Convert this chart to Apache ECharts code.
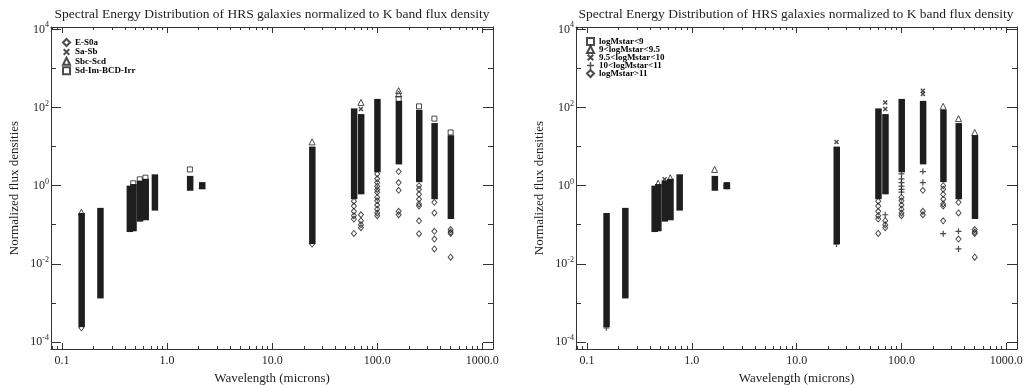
<!DOCTYPE html>
<html><head><meta charset="utf-8">
<script src="https://cdn.jsdelivr.net/npm/echarts@6/dist/echarts.min.js"></script>
<style>html,body{margin:0;padding:0;background:#fff}#c{width:1031px;height:385px}</style>
</head><body><div id="c"></div>
<script>
// ---------------- data ----------------
const titleText = 'Spectral Energy Distribution of HRS galaxies normalized to K band flux density';
const xName = 'Wavelength (microns)';
const yName = 'Normalized flux densities';
const xRange = [0.0786, 1265];
const yRange = [6.6e-5, 11500];
const xTickValues = [0.1, 1, 10, 100, 1000];
const xTickLabels = ['0.1', '1.0', '10.0', '100.0', '1000.0'];
const xMinorValues = [0.08, 0.09, 0.2, 0.3, 0.4, 0.5, 0.6, 0.7, 0.8, 0.9, 2, 3, 4, 5, 6, 7, 8, 9,
  20, 30, 40, 50, 60, 70, 80, 90, 200, 300, 400, 500, 600, 700, 800, 900];
const yTickValues = [1e-4, 1e-2, 1, 1e2, 1e4];
const yTickExponents = ['-4', '-2', '0', '2', '4'];
const yMinorValues = [1e-3, 1e-1, 1e1, 1e3];

// band wavelengths (microns) and the dense core of each column (overlapping symbols)
const bands    = [0.153, 0.231, 0.44, 0.477, 0.55, 0.623, 0.762, 1.65, 2.15, 24, 60, 70, 100, 160, 250, 350, 500];
const coreLow  = [2.4e-4, 1.3e-3, 0.065, 0.068, 0.12, 0.13, 0.23, 0.74, 0.96, 0.032, 0.45, 0.6, 2.2, 3.5, 1.23, 0.45, 0.14];
const coreHigh = [0.2, 0.27, 1.0, 1.1, 1.35, 1.5, 1.95, 1.78, 1.04, 10, 95, 68, 166, 148, 87, 40, 19.5];

// left panel: morphological classes
const leftNames = ['E-S0a', 'Sa-Sb', 'Sbc-Scd', 'Sd-Im-BCD-Irr'];
const typeE = [[0.153, 2.3e-4], [2.15, 1], [24, 0.032],
  [60, 0.4], [60, 0.3], [60, 0.22], [60, 0.17], [60, 0.14], [60, 0.06],
  [70, 0.18], [70, 0.127], [70, 0.1], [70, 0.084],
  [100, 2.0], [100, 1.5], [100, 1.2], [100, 0.97], [100, 0.8], [100, 0.68], [100, 0.5], [100, 0.41], [100, 0.32], [100, 0.25], [100, 0.2], [100, 0.17],
  [160, 2.3], [160, 1.2], [160, 0.76], [160, 0.22], [160, 0.18],
  [250, 1.0], [250, 0.81], [250, 0.6], [250, 0.45], [250, 0.34], [250, 0.3], [250, 0.126], [250, 0.059],
  [350, 0.375], [350, 0.2], [350, 0.068], [350, 0.043], [350, 0.024],
  [500, 0.075], [500, 0.065], [500, 0.06], [500, 0.0148]];
const typeSa = [[70, 91], [2.15, 1]];
const typeSbc = [[0.153, 0.21], [24, 13.2], [70, 135], [160, 270], [160, 223], [2.15, 1]];
const typeSd = [[0.477, 1.15], [0.55, 1.45], [0.623, 1.6], [1.65, 2.6], [160, 166], [250, 107], [350, 52], [500, 23], [2.15, 1]];

// right panel: stellar mass classes
const rightNames = ['logMstar<9', '9<logMstar<9.5', '9.5<logMstar<10', '10<logMstar<11', 'logMstar>11'];
const massLt9 = [[2.15, 1]];
const mass9 = [[0.477, 1.15], [0.623, 1.6], [1.65, 2.6], [250, 107], [350, 52], [500, 23], [2.15, 1]];
const mass95 = [[0.55, 1.45], [24, 13.2], [70, 135], [70, 91], [160, 270], [160, 223], [2.15, 1]];
const mass10 = [[0.153, 2.3e-4], [24, 0.032], [70, 0.18], [100, 2.0], [100, 1.5], [100, 1.2], [100, 0.97], [100, 0.8], [100, 0.68],
  [160, 2.3], [160, 1.2], [250, 0.059], [350, 0.068], [350, 0.024], [2.15, 1]];
const mass11 = [[60, 0.4], [60, 0.3], [60, 0.22], [60, 0.17], [60, 0.14], [60, 0.06],
  [70, 0.127], [70, 0.1], [70, 0.084],
  [100, 0.5], [100, 0.41], [100, 0.32], [100, 0.25], [100, 0.2], [100, 0.17],
  [160, 0.76], [160, 0.22], [160, 0.18],
  [250, 1.0], [250, 0.81], [250, 0.6], [250, 0.45], [250, 0.34], [250, 0.3], [250, 0.126],
  [350, 0.375], [350, 0.2], [350, 0.043],
  [500, 0.075], [500, 0.065], [500, 0.06], [500, 0.0148], [2.15, 1]];

// ---------------- styling / building ----------------
const FONT = 'Liberation Serif';
const INK = '#1e1e1e';
const LINE = '#333';
const HOLLOW = 'rgba(255,255,255,0)';
const L = v => Math.log10(v);
const X_PATH = 'path://M0,2 L2,0 L5,3 L8,0 L10,2 L7,5 L10,8 L8,10 L5,7 L2,10 L0,8 L3,5 Z';
const PLUS_PATH = 'path://M4,0 L6,0 L6,4 L10,4 L10,6 L6,6 L6,10 L4,10 L4,6 L0,6 L0,4 L4,4 Z';
const SYM = {
  diamond: {symbol: 'diamond', symbolSize: [5, 6], itemStyle: {color: HOLLOW, borderColor: INK, borderWidth: 1}},
  x: {symbol: X_PATH, symbolSize: 5, itemStyle: {color: INK}},
  triangle: {symbol: 'triangle', symbolSize: 6, itemStyle: {color: HOLLOW, borderColor: INK, borderWidth: 1}},
  square: {symbol: 'rect', symbolSize: 5, itemStyle: {color: HOLLOW, borderColor: INK, borderWidth: 1}},
  plus: {symbol: PLUS_PATH, symbolSize: 6, itemStyle: {color: INK}}
};

function fmtX(v) {
  const k = xTickValues.findIndex(t => Math.abs(L(t) - v) < 1e-6);
  return k < 0 ? '' : xTickLabels[k];
}
function fmtY(v) {
  const k = yTickValues.findIndex(t => Math.abs(L(t) - v) < 1e-6);
  return k < 0 ? '' : '{b|10}{s|' + yTickExponents[k] + '}';
}

const grids = [{left: 51, top: 27, width: 442, height: 322}, {left: 576, top: 27, width: 441, height: 322}];
const xAxes = [], yAxes = [];
function xAxis(g, pos, major, main) {
  const vals = (major ? xTickValues : xMinorValues).map(L);
  return {
    gridIndex: g, type: 'value', position: pos, min: L(xRange[0]), max: L(xRange[1]),
    axisLine: {show: main, onZero: false, lineStyle: {color: LINE, width: 1}},
    axisTick: {show: true, inside: true, length: major ? 6 : 3, customValues: vals, lineStyle: {color: LINE, width: 1}},
    axisLabel: main && pos === 'bottom' ? {show: true, customValues: vals, formatter: fmtX, margin: 6,
      fontFamily: FONT, fontSize: 12, color: INK} : {show: false},
    splitLine: {show: false}, minorTick: {show: false},
    name: main && pos === 'bottom' ? xName : '', nameLocation: 'middle', nameGap: 21,
    nameTextStyle: {fontFamily: FONT, fontSize: 13, color: INK}
  };
}
function yAxis(g, pos, major, main) {
  const vals = (major ? yTickValues : yMinorValues).map(L);
  return {
    gridIndex: g, type: 'value', position: pos, min: L(yRange[0]), max: L(yRange[1]),
    axisLine: {show: main, onZero: false, lineStyle: {color: LINE, width: 1}},
    axisTick: {show: true, inside: true, length: major ? 10 : 5, customValues: vals, lineStyle: {color: LINE, width: 1}},
    axisLabel: main && pos === 'left' ? {show: true, customValues: vals, formatter: fmtY, margin: 2,
      rich: {b: {fontFamily: FONT, fontSize: 12, color: INK, lineHeight: 16},
             s: {fontFamily: FONT, fontSize: 8, color: INK, lineHeight: 8, verticalAlign: 'top'}}} : {show: false},
    splitLine: {show: false}, minorTick: {show: false},
    name: main && pos === 'left' ? yName : '', nameLocation: 'middle', nameGap: 30,
    nameTextStyle: {fontFamily: FONT, fontSize: 13, color: INK}
  };
}
for (let g = 0; g < 2; g++) {
  xAxes.push(xAxis(g, 'bottom', true, true), xAxis(g, 'bottom', false, false), xAxis(g, 'top', true, true), xAxis(g, 'top', false, false));
  yAxes.push(yAxis(g, 'left', true, true), yAxis(g, 'left', false, false), yAxis(g, 'right', true, true), yAxis(g, 'right', false, false));
}

const coreData = bands.map((b, k) => [L(b), L(coreLow[k]), L(coreHigh[k])]);
function coreSeries(g) {
  return {
    type: 'custom', name: 'core' + g, xAxisIndex: g * 4, yAxisIndex: g * 4, data: coreData,
    encode: {x: 0, y: [1, 2]}, silent: true,
    renderItem: function (params, api) {
      const top = api.coord([api.value(0), api.value(2)]);
      const bot = api.coord([api.value(0), api.value(1)]);
      let y = top[1], h = bot[1] - top[1];
      if (h < 7) { y = (top[1] + bot[1]) / 2 - 3.5; h = 7; }
      return {type: 'rect', shape: {x: top[0] - 3, y: y, width: 6.5, height: h}, style: {fill: INK}};
    }
  };
}
function scatter(g, name, pts, sym) {
  return Object.assign({
    type: 'scatter', name: name, xAxisIndex: g * 4, yAxisIndex: g * 4,
    data: pts.map(p => [L(p[0]), L(p[1])]), silent: true
  }, JSON.parse(JSON.stringify(sym)));
}

const series = [
  coreSeries(0),
  scatter(0, leftNames[0], typeE, SYM.diamond),
  scatter(0, leftNames[1], typeSa, SYM.x),
  scatter(0, leftNames[2], typeSbc, SYM.triangle),
  scatter(0, leftNames[3], typeSd, SYM.square),
  coreSeries(1),
  scatter(1, rightNames[0], massLt9, SYM.square),
  scatter(1, rightNames[1], mass9, SYM.triangle),
  scatter(1, rightNames[2], mass95, SYM.x),
  scatter(1, rightNames[3], mass10, SYM.plus),
  scatter(1, rightNames[4], mass11, SYM.diamond)
];

const legendText = {fontFamily: FONT, fontSize: 9, fontWeight: 'bold', color: '#000'};
const option = {
  backgroundColor: '#fff',
  animation: false,
  title: [
    {text: titleText, left: 272, top: 7, textAlign: 'center', padding: 0,
     textStyle: {fontFamily: FONT, fontSize: 13.5, fontWeight: 'normal', color: INK}},
    {text: titleText, left: 796, top: 7, textAlign: 'center', padding: 0,
     textStyle: {fontFamily: FONT, fontSize: 13.5, fontWeight: 'normal', color: INK}}
  ],
  legend: [
    {data: leftNames, orient: 'vertical', left: 62, top: 38, padding: 0, itemWidth: 7, itemHeight: 7, itemGap: 0.4,
     selectedMode: false, textStyle: Object.assign({lineHeight: 9}, legendText)},
    {data: rightNames, orient: 'vertical', left: 586, top: 37, padding: 0, itemWidth: 7, itemHeight: 7, itemGap: -1,
     selectedMode: false, textStyle: Object.assign({lineHeight: 8}, legendText)}
  ],
  grid: grids.map(g => Object.assign({containLabel: false, outerBoundsMode: 'none'}, g)),
  xAxis: xAxes,
  yAxis: yAxes,
  series: series
};
const chart = echarts.init(document.getElementById('c'), null, {renderer: 'canvas'});
chart.setOption(option);
</script>
</body></html>
